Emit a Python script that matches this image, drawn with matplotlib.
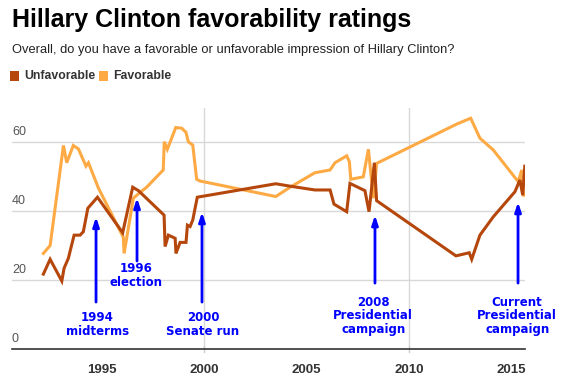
import matplotlib.pyplot as plt
from matplotlib.patches import Rectangle

# Donnees
fav_years = [1992.16, 1992.49, 1993.14, 1993.30, 1993.62, 1993.87, 1994.24, 1994.36, 1994.85,
	1996.06, 1996.10, 1996.55, 1996.80, 1997.20, 1998.01, 1998.06, 1998.21, 1998.62, 1998.91,
	1999.12, 1999.23, 1999.45, 1999.64, 1999.80, 2003.50, 2004.20, 2005.41, 2006.15, 2006.39,
	2006.96, 2007.09, 2007.16, 2007.77, 2008.02, 2008.26, 2008.42, 2012.33, 2013.01, 2013.46,
	2014.11, 2015.33, 2015.50, 2015.58, 2015.65]
fav_values = [27.7, 30, 59, 54, 59, 58, 53, 54, 46.6,
	32.4, 27.7, 43.7, 45, 46.9, 51.9, 60.1, 57.9, 64.2, 64,
	62.8, 60.1, 59.1, 49.2, 48.7, 44.2, 46.9, 51.1, 51.9, 54,
	56, 54.3, 49.2, 49.9, 57.9, 43.7, 53.8, 65.2, 66.9, 61.1,
	57.7, 48.5, 51.9, 44.6, 44.6]

unfav_years = [1992.16, 1992.49, 1993.06, 1993.17, 1993.38, 1993.66, 1993.95, 1994.11, 1994.33,
	1994.80, 1996.03, 1996.52, 1996.80, 1998.05, 1998.10, 1998.26, 1998.59, 1998.63, 1998.83,
	1999.12, 1999.19, 1999.32, 1999.45, 1999.67, 2003.50, 2004.20, 2005.41, 2006.15, 2006.34,
	2006.96, 2007.12, 2007.85, 2008.05, 2008.31, 2008.42, 2012.29, 2012.94, 2013.06, 2013.46,
	2014.11, 2015.17, 2015.41, 2015.55, 2015.65]
unfav_values = [21.7, 26, 19.7, 23.4, 26.3, 33, 33, 34, 40.8,
	44, 33.7, 46.9, 45.9, 38.8, 29.7, 33, 32.1, 27.7, 30.9,
	30.9, 35.9, 35.5, 37.4, 44, 47.9, 47.2, 46.1, 46.1, 42,
	39.8, 48, 45.9, 39.8, 54, 43, 27, 27.9, 26, 33,
	38.3, 45.6, 49, 44.6, 53]

year_ticks = [1995, 2000, 2005, 2010, 2015]
grid_years = [2000, 2010]
value_ticks = [0, 20, 40, 60]

# Annotations : texte, annee, bout de la fleche, depart de la fleche, centre du texte
notes = ["1994\nmidterms", "1996\nelection", "2000\nSenate run",
	"2008\nPresidential\ncampaign", "Current\nPresidential\ncampaign"]
note_x = [1994.73, 1996.73, 1999.9, 2008.34, 2015.32]
note_tip = [38.3, 43.8, 39.7, 38.8, 42.6]
note_tail = [13.6, 25.5, 13.6, 19.1, 19.1]
note_text_x = [1994.8, 1996.7, 1999.95, 2008.25, 2015.28]
note_text_y = [7.2, 21.2, 7.2, 9.6, 9.6]

c_unfav = "#b5470c"
c_fav = "#fdaa45"
narrow = ["Liberation Sans Narrow", "Liberation Sans", "DejaVu Sans"]

fig = plt.figure(figsize=(5.66, 3.92), dpi=100)
fig.patch.set_facecolor("white")
W, H = 566, 392
ax = fig.add_axes([12 / W, 43 / H, 513 / W, 241 / H])

ax.plot(fav_years, fav_values, color=c_fav, linewidth=2.2, solid_joinstyle="miter", zorder=3)
ax.plot(unfav_years, unfav_values, color=c_unfav, linewidth=2.2, solid_joinstyle="miter", zorder=4)

ax.set_xlim(1990.63, 2015.66)
ax.set_ylim(0, 69.86)

# grille
for v in value_ticks[1:]:
	ax.axhline(v, color="#d8d8d8", linewidth=1, zorder=1)
for yr in grid_years:
	ax.axvline(yr, color="#d8d8d8", linewidth=1, zorder=1)
	ax.plot([yr, yr], [-0.8, 0.8], color="#cccccc", linewidth=1, clip_on=False, zorder=1)

for spine in ["top", "right", "left"]:
	ax.spines[spine].set_visible(False)
ax.spines["bottom"].set_color("#333333")
ax.spines["bottom"].set_linewidth(1.2)

ax.set_yticks([])
for v in value_ticks:
	ax.annotate(str(v), xy=(0, v), xycoords=("axes fraction", "data"),
		xytext=(0, 3), textcoords="offset points",
		ha="left", va="bottom", fontsize=9, color="#555555", family=["Liberation Sans", "DejaVu Sans"])

ax.set_xticks(year_ticks)
ax.set_xticklabels([str(y) for y in year_ticks], fontsize=9.5, fontweight="bold", color="#333333", family=narrow)
ax.tick_params(axis="x", length=0, pad=11)

# fleches et textes
for txt, x, tip, tail, tx, ty in zip(notes, note_x, note_tip, note_tail, note_text_x, note_text_y):
	ax.annotate("", xy=(x, tip), xytext=(x, tail),
		arrowprops=dict(arrowstyle="-|>,head_length=0.6,head_width=0.2", color="#0000ff",
			lw=2, mutation_scale=9, shrinkA=0, shrinkB=0), zorder=5)
	ax.text(tx, ty, txt, ha="center", va="center", color="#0000ff", fontsize=8.5,
		fontweight="bold", linespacing=1.08, family="DejaVu Sans", zorder=5)

# titres
fig.text(12 / W, 1 - 8 / H, "Hillary Clinton favorability ratings", ha="left", va="top",
	fontsize=18, fontweight="bold", color="black", family=narrow)
fig.text(12 / W, 1 - 50 / H, "Overall, do you have a favorable or unfavorable impression of Hillary Clinton?",
	ha="left", va="center", fontsize=9.3, color="#222222", family=["Liberation Sans", "DejaVu Sans"])

# legende
fig.patches.append(Rectangle((10 / W, 1 - 81 / H), 9 / W, 10 / H, transform=fig.transFigure,
	facecolor=c_unfav, edgecolor="none"))
fig.text(24 / W, 1 - 76 / H, "Unfavorable", ha="left", va="center", fontsize=8.8,
	fontweight="bold", color="#333333", family=narrow)
fig.patches.append(Rectangle((99 / W, 1 - 81 / H), 9 / W, 10 / H, transform=fig.transFigure,
	facecolor=c_fav, edgecolor="none"))
fig.text(113 / W, 1 - 76 / H, "Favorable", ha="left", va="center", fontsize=8.8,
	fontweight="bold", color="#333333", family=narrow)

fig.savefig("out.png", dpi=100, facecolor=fig.get_facecolor())
